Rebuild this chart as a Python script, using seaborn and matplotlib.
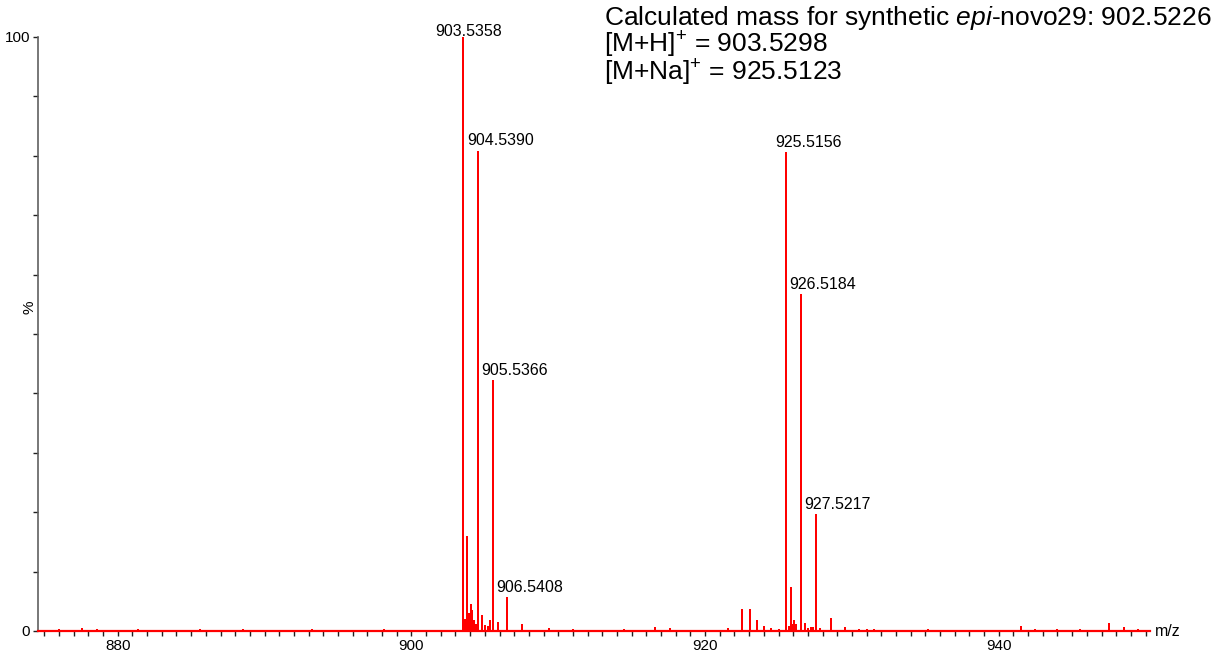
import matplotlib
matplotlib.use("Agg")
import matplotlib.pyplot as plt
from matplotlib.ticker import MultipleLocator, FixedLocator
import numpy as np
import pandas as pd
import seaborn as sns

# Centroided peaks: m/z and relative intensity (%)
mz = [
    876.0, 877.55, 878.6, 881.4, 885.6, 888.5, 893.2, 898.1,
    903.5358, 903.63, 903.78, 903.94, 904.03, 904.14, 904.23, 904.39,
    904.5390, 904.83, 905.03, 905.2, 905.36, 905.5366, 905.9,
    906.5408, 907.55, 909.4, 911.0, 914.5, 916.6, 917.6,
    921.53, 922.53, 923.03, 923.53, 924.03, 924.5, 925.0,
    925.5156, 925.70, 925.82, 925.95, 926.05, 926.18,
    926.5184, 926.82, 927.0, 927.2, 927.35,
    927.5217, 927.8, 928.55, 929.53, 930.5, 931.0, 931.5,
    935.2, 941.5, 942.5, 944.0, 945.5, 947.53, 948.53, 949.5,
]
intensity = [
    0.2, 0.3, 0.15, 0.1, 0.15, 0.15, 0.1, 0.1,
    100.0, 1.8, 15.8, 2.9, 4.4, 3.4, 1.7, 1.0,
    80.7, 2.6, 0.8, 0.6, 1.6, 42.1, 1.4,
    5.5, 1.0, 0.3, 0.2, 0.2, 0.5, 0.3,
    0.3, 3.5, 3.5, 1.7, 0.6, 0.3, 0.2,
    80.4, 0.6, 7.2, 1.0, 1.7, 1.0,
    56.6, 1.1, 0.4, 0.5, 0.5,
    19.5, 0.3, 2.0, 0.5, 0.2, 0.2, 0.2,
    0.15, 0.6, 0.2, 0.2, 0.15, 1.2, 0.5, 0.2,
]

# Annotated peaks (label = m/z value)
labelled_mz = [903.5358, 904.5390, 905.5366, 906.5408, 925.5156, 926.5184, 927.5217]

x_ticks = [880, 900, 920, 940]
y_ticks = [0, 100]

title_lines = [
    r"Calculated mass for synthetic $\mathit{epi}$-novo29: 902.5226",
    r"[M+H]$^{+}$ = 903.5298",
    r"[M+Na]$^{+}$ = 925.5123",
]

sns.set_style("white")
plt.rcParams["font.family"] = ["Liberation Sans", "DejaVu Sans"]
plt.rcParams["mathtext.fontset"] = "custom"
plt.rcParams["mathtext.rm"] = "Liberation Sans"
plt.rcParams["mathtext.it"] = "Liberation Sans:italic"
plt.rcParams["mathtext.bf"] = "Liberation Sans:bold"
plt.rcParams["text.color"] = "black"
plt.rcParams["xtick.color"] = "black"
plt.rcParams["ytick.color"] = "black"
plt.rcParams["axes.labelcolor"] = "black"

# Stick spectrum: each peak rises from and returns to the baseline
rows = []
for m, h in zip(mz, intensity):
    rows += [(m, 0.0), (m, h), (m, 0.0)]
spec = pd.DataFrame(rows, columns=["mz", "intensity"])

fig = plt.figure(figsize=(12.26, 6.56), dpi=100)
ax = fig.add_axes([38 / 1226, 25 / 656, 1112 / 1226, 594 / 656])

sns.lineplot(data=spec, x="mz", y="intensity", sort=False, estimator=None,
             color="#ff0000", lw=1.4, ax=ax, legend=False)

ax.set_xlim(874.57, 950.3)
ax.set_ylim(0, 100)

for side in ("top", "right"):
    ax.spines[side].set_visible(False)
ax.spines["left"].set_color("#606060")
ax.spines["left"].set_linewidth(1.2)
ax.spines["bottom"].set_color("#ff0000")
ax.spines["bottom"].set_linewidth(1.6)

ax.xaxis.set_major_locator(FixedLocator(x_ticks))
ax.xaxis.set_minor_locator(MultipleLocator(1))
ax.yaxis.set_major_locator(FixedLocator(y_ticks))
ax.yaxis.set_minor_locator(MultipleLocator(10))
ax.tick_params(axis="both", which="both", direction="out", color="#202020",
               labelcolor="black", width=1.0, length=3.5, labelsize=11, pad=2)
ax.tick_params(axis="x", which="both", bottom=True)
ax.tick_params(axis="y", which="both", left=True)
ax.set_xlabel("")
ax.set_ylabel("")

ax.text(-0.0072, 0.545, "%", rotation=90, transform=ax.transAxes,
        ha="center", va="center", fontsize=11)
ax.text(1.004, 0.0, "m/z", transform=ax.transAxes,
        ha="left", va="center", fontsize=11.5)

# Peak labels
lookup = dict(zip(mz, intensity))
for m in labelled_mz:
    h = lookup[m]
    if h >= 99:
        dx, dy = 4, 1
    else:
        dx, dy = 16, 4.5
    ax.annotate(f"{m:.4f}", xy=(m, h), xytext=(dx, dy), textcoords="offset points",
                ha="center", va="baseline", fontsize=11.5, annotation_clip=False)

for i, line in enumerate(title_lines):
    fig.text(604 / 1226, 1 - (25 + 28 * i) / 656, line, ha="left", va="baseline",
             fontsize=19)

fig.savefig("out.png", dpi=100)
